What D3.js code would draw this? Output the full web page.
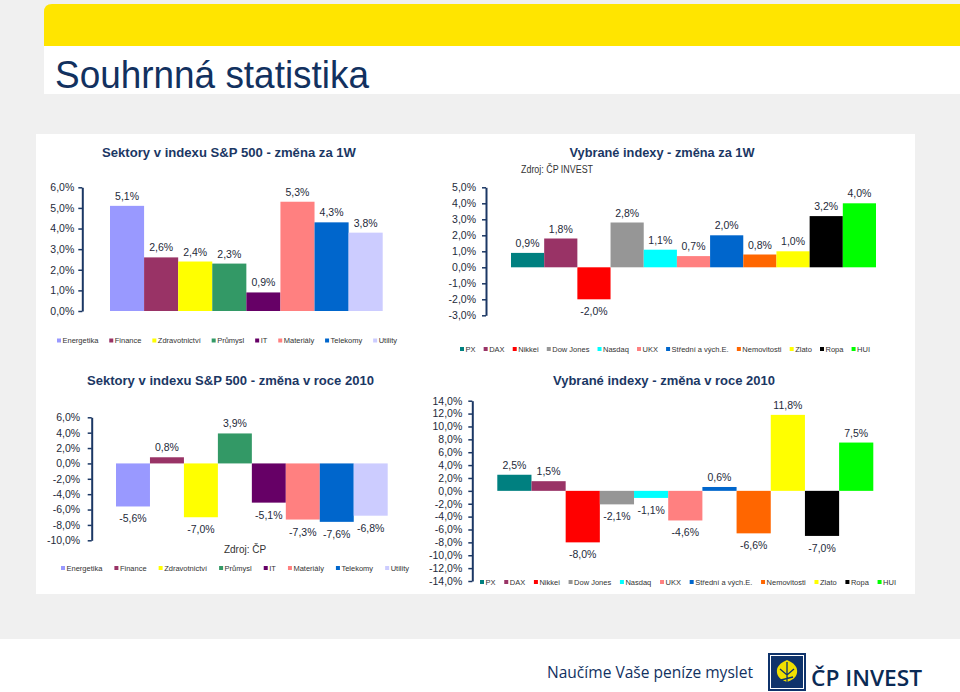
<!DOCTYPE html>
<html><head><meta charset="utf-8">
<script src="https://cdn.jsdelivr.net/npm/d3@7"></script>
<style>
html,body{margin:0;padding:0;background:#f0f0f0;}
svg{display:block;font-family:"Liberation Sans",Arial,sans-serif;}
</style></head>
<body>
<svg id="c" width="960" height="692"></svg>
<script>
// ---------- data ----------
const sectors = ["Energetika","Finance","Zdravotnictví","Průmysl","IT","Materiály","Telekomy","Utility"];
const sectorColors = ["#9999FF","#993366","#FFFF00","#339966","#660066","#FF8080","#0066CC","#CCCCFF"];
const sector1W = [5.1,2.6,2.4,2.3,0.9,5.3,4.3,3.8];
const sector2010 = [-5.6,0.8,-7.0,3.9,-5.1,-7.3,-7.6,-6.8];

const indices = ["PX","DAX","Nikkei","Dow Jones","Nasdaq","UKX","Střední  a vých.E.","Nemovitosti","Zlato","Ropa","HUI"];
const indexColors = ["#008080","#993366","#FF0000","#969696","#00FFFF","#FF8080","#0066CC","#FF6600","#FFFF00","#000000","#00FF00"];
const index1W = [0.9,1.8,-2.0,2.8,1.1,0.7,2.0,0.8,1.0,3.2,4.0];
const index2010 = [2.5,1.5,-8.0,-2.1,-1.1,-4.6,0.6,-6.6,11.8,-7.0,7.5];

const ticks1 = [0,1,2,3,4,5,6];
const ticks2 = [-3,-2,-1,0,1,2,3,4,5];
const ticks3 = [-10,-8,-6,-4,-2,0,2,4,6];
const ticks4 = [-14,-12,-10,-8,-6,-4,-2,0,2,4,6,8,10,12,14];

const titles = ["Sektory v indexu S&P 500 - změna za 1W","Vybrané indexy - změna za 1W",
                "Sektory v indexu S&P 500 - změna v roce 2010","Vybrané indexy - změna v roce 2010"];

// ---------- helpers ----------
const fmt = v => v.toFixed(1).replace('.', ',') + '%';
const NAVY = "#1b3764";
const svg = d3.select("#c");

// page background pieces
svg.append("rect").attr("x",0).attr("y",0).attr("width",960).attr("height",692).attr("fill","#f0f0f0");
svg.append("path").attr("d","M44,46 V12 Q44,4 52,4 H960 V46 Z").attr("fill","#FFE500");
svg.append("rect").attr("x",44).attr("y",46).attr("width",916).attr("height",48).attr("fill","#ffffff");
svg.append("text").attr("x",55).attr("y",88).attr("fill","#12315f")
  .style("font-family","'Liberation Sans Narrow','Liberation Sans',Arial,sans-serif")
  .style("font-size","38px").attr("textLength",314).attr("lengthAdjust","spacingAndGlyphs")
  .text("Souhrnná statistika");
svg.append("rect").attr("x",36).attr("y",134).attr("width",879).attr("height",460).attr("fill","#ffffff");
svg.append("rect").attr("x",0).attr("y",639).attr("width",960).attr("height",53).attr("fill","#ffffff");

function chart(cfg){
  const g = svg.append("g");
  const y = d3.scaleLinear().domain(cfg.domain).range(cfg.yRange);
  const x = d3.scaleBand().domain(cfg.cats).range(cfg.xRange).paddingInner(0).paddingOuter(0);

  // title
  g.append("text").attr("x",cfg.titleX).attr("y",cfg.titleY).attr("text-anchor","middle")
    .attr("fill",NAVY).style("font-weight","bold").style("font-size","13px")
    .attr("textLength",cfg.titleW).attr("lengthAdjust","spacingAndGlyphs").text(cfg.title);

  // bars
  g.selectAll("rect.bar").data(cfg.values).join("rect").attr("class","bar")
    .attr("x",(d,i)=>x(cfg.cats[i])).attr("width",x.bandwidth())
    .attr("y",d=>y(Math.max(0,d))).attr("height",d=>Math.abs(y(d)-y(0)))
    .attr("fill",(d,i)=>cfg.colors[i]);

  // data labels
  g.selectAll("text.lbl").data(cfg.values).join("text").attr("class","lbl")
    .attr("x",(d,i)=>x(cfg.cats[i])+x.bandwidth()/2)
    .attr("y",d=> d>=0 ? y(d)-6 : y(d)+16)
    .attr("text-anchor","middle").attr("fill","#1e2a3a").style("font-size","10.5px")
    .text(d=>fmt(d));

  // axis
  const ax = g.append("g").attr("transform",`translate(${cfg.axisX},0)`)
    .call(d3.axisLeft(y).tickValues(cfg.ticks).tickSize(4).tickSizeOuter(0).tickPadding(cfg.pad).tickFormat(fmt));
  ax.select(".domain").attr("stroke",NAVY).attr("stroke-width",2);
  ax.selectAll(".tick line").attr("stroke",NAVY).attr("stroke-width",1.5);
  ax.selectAll(".tick text").attr("fill","#1e2a3a").style("font-size","10.5px")
    .style("font-family","'Liberation Sans',Arial,sans-serif");

  // legend
  const lg = g.append("g");
  const items = cfg.cats.map((c,i)=>{
    const it = lg.append("g");
    it.append("rect").attr("width",4).attr("height",4).attr("y",-4.5).attr("fill",cfg.colors[i]);
    const t = it.append("text").attr("x",5.5).attr("y",0).attr("fill","#333").style("font-size","7.5px").text(c);
    return {it, w: 5.5 + t.node().getComputedTextLength()};
  });
  const total = d3.sum(items, d=>d.w);
  const gap = (cfg.legEnd - cfg.legStart - total)/(items.length-1);
  let cx = cfg.legStart;
  items.forEach(d=>{ d.it.attr("transform",`translate(${cx},${cfg.legY})`); cx += d.w + gap; });
  return g;
}

chart({cats:sectors, colors:sectorColors, values:sector1W, ticks:ticks1, domain:[0,6], yRange:[311,187.3],
  xRange:[110,382.7], axisX:82.3, pad:4, title:titles[0], titleX:229, titleY:156.5, titleW:254,
  legStart:57, legEnd:397, legY:343});
chart({cats:indices, colors:indexColors, values:index1W, ticks:ticks2, domain:[-3,5], yRange:[315.3,187.3],
  xRange:[511,876], axisX:486, pad:6, title:titles[1], titleX:662, titleY:156.5, titleW:185,
  legStart:460, legEnd:870, legY:351.5});
chart({cats:sectors, colors:sectorColors, values:sector2010, ticks:ticks3, domain:[-10,6], yRange:[540.3,417.3],
  xRange:[116,387.7], axisX:91.7, pad:7.5, title:titles[2], titleX:230.5, titleY:384.5, titleW:287,
  legStart:61, legEnd:409, legY:570.5});
chart({cats:indices, colors:indexColors, values:index2010, ticks:ticks4, domain:[-14,14], yRange:[581,400.7],
  xRange:[497.3,873.3], axisX:472.3, pad:6, title:titles[3], titleX:664, titleY:384.5, titleW:222,
  legStart:480, legEnd:896, legY:584.5});

// source notes
svg.append("text").attr("x",521).attr("y",172.5).attr("fill","#333").style("font-size","10px")
  .attr("textLength",72).attr("lengthAdjust","spacingAndGlyphs").text("Zdroj: ČP INVEST");
svg.append("text").attr("x",245).attr("y",552.5).attr("text-anchor","middle").attr("fill","#333").style("font-size","10px")
  .text("Zdroj: ČP");

// footer
svg.append("text").attr("x",547).attr("y",678).attr("fill","#12315f")
  .style("font-family","'Open Sans','Noto Sans',sans-serif").style("font-size","16.5px")
  .attr("textLength",206).attr("lengthAdjust","spacingAndGlyphs").text("Naučíme Vaše peníze myslet");
const logo = svg.append("g").attr("transform","translate(768,653)");
logo.append("rect").attr("width",38).attr("height",38).attr("fill","#0f336b");
logo.append("rect").attr("x",2.5).attr("y",2.5).attr("width",33).attr("height",33).attr("fill","none").attr("stroke","#ffffff").attr("stroke-width",1);
logo.append("path").attr("d","M19,7 C12,10 8,14 9,20 C10,25 14,27 19,29 C24,27 28,25 29,20 C30,14 26,10 19,7 Z").attr("fill","#f0e000");
logo.append("path").attr("d","M19,9 V33 M12,16 L19,22 L26,16 M13,27 L25,24").attr("stroke","#0f336b").attr("stroke-width",1.3).attr("fill","none");
svg.append("text").attr("x",811).attr("y",685.5).attr("fill","#0b2a55")
  .style("font-family","'Open Sans','Noto Sans',sans-serif").style("font-size","22px").style("font-weight","600")
  .attr("textLength",111).attr("lengthAdjust","spacingAndGlyphs").text("ČP INVEST");
</script>
</body></html>
